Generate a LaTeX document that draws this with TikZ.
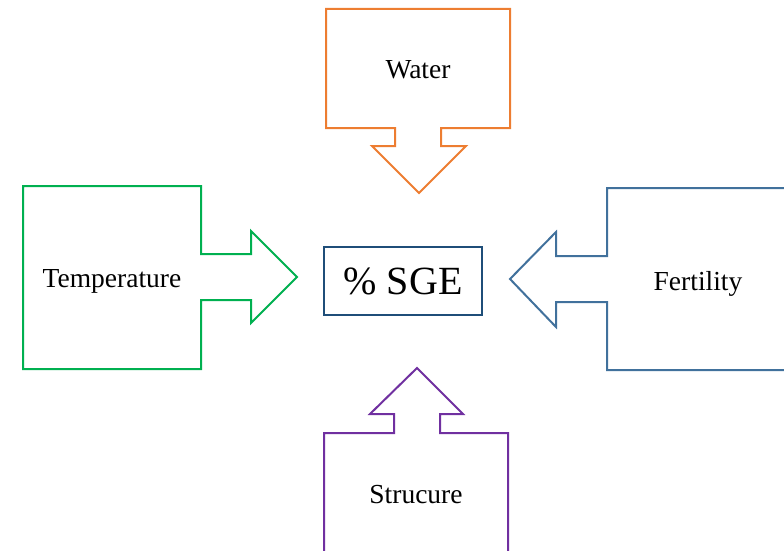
\documentclass[tikz,border=0pt]{standalone}
\usepackage{fontspec}
\setmainfont{Liberation Serif}
\definecolor{cwater}{HTML}{ED7D31}
\definecolor{ctemp}{HTML}{00B050}
\definecolor{cfert}{HTML}{41719C}
\definecolor{cstruct}{HTML}{7030A0}
\definecolor{ccenter}{HTML}{1F4E79}
\begin{document}
\begin{tikzpicture}[x=1pt,y=-1pt,
  callout/.style={line width=2pt, line join=miter, fill=white},
  lbl/.style={font=\fontsize{27.5}{32}\selectfont, text=black, inner sep=0pt, anchor=base}]
\useasboundingbox (0,0) rectangle (784,551);
\clip (0,0) rectangle (784,551);
% Water
\draw[callout, draw=cwater] (326,9) -- (510,9) -- (510,128) -- (441,128) -- (441,146) -- (466,146)
  -- (419,193) -- (372,146) -- (395,146) -- (395,128) -- (326,128) -- cycle;
\node[lbl] (water) at (418,78) {Water};
% Temperature
\draw[callout, draw=ctemp] (23,186) -- (201,186) -- (201,254) -- (251,254) -- (251,231) -- (297,277)
  -- (251,323) -- (251,300) -- (201,300) -- (201,369) -- (23,369) -- cycle;
\node[lbl] (temp) at (112,287) {Temperature};
% Fertility
\draw[callout, draw=cfert] (800,188) -- (607,188) -- (607,256) -- (556,256) -- (556,232) -- (510,279)
  -- (556,327) -- (556,302) -- (607,302) -- (607,370) -- (800,370) -- cycle;
\node[lbl] (fert) at (698,290) {Fertility};
% Structure
\draw[callout, draw=cstruct] (324,560) -- (324,433) -- (394,433) -- (394,414) -- (370,414) -- (417,368)
  -- (463,414) -- (440,414) -- (440,433) -- (508,433) -- (508,560) -- cycle;
\node[lbl] (struct) at (416,503) {Strucure};
% Center
\node[draw=ccenter, line width=2pt, minimum width=158pt, minimum height=68pt, inner sep=0pt,
  font=\fontsize{40}{46}\selectfont] (sge) at (403,281) {\% SGE};
\end{tikzpicture}
\end{document}
